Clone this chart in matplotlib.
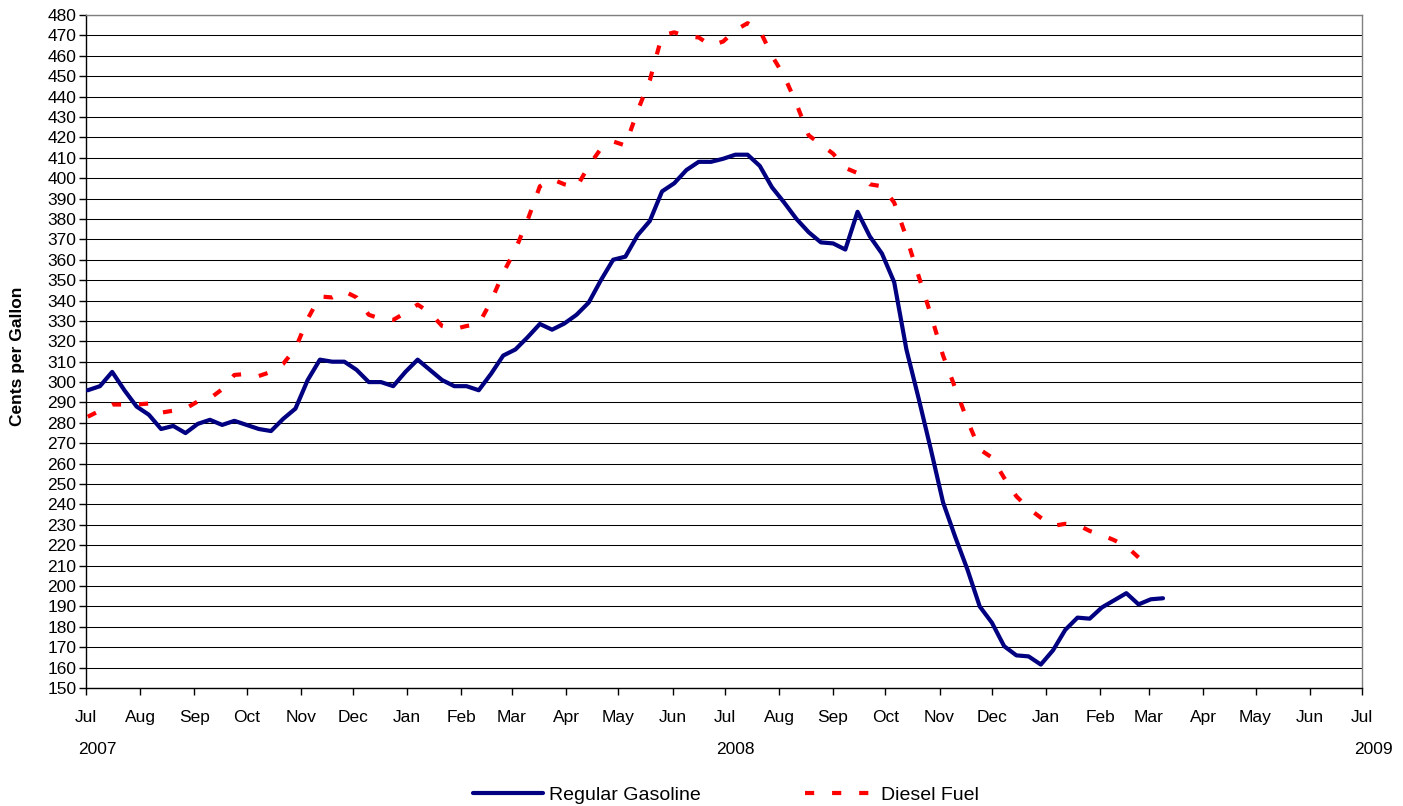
import matplotlib
matplotlib.use("Agg")
import matplotlib.pyplot as plt
import matplotlib.dates as mdates
import pandas as pd
import numpy as np

plt.rcParams['font.family'] = ['Liberation Sans', 'DejaVu Sans']

# Weekly dates (Mondays) starting Jul 2, 2007
start_date = "2007-07-02"

gasoline = [296, 298, 305, 296, 288, 284, 277, 278.5, 275, 279.5,
            281.5, 279, 281, 279, 277, 276, 282, 287, 301, 311,
            310, 310, 306, 300, 300, 298, 305, 311, 306, 301,
            298, 298, 296, 304, 313, 316, 322, 328.5, 325.7, 328.7,
            333, 339, 350, 360, 361.5, 372, 379, 393.5, 397.5, 404,
            408, 408, 409.5, 411.5, 411.5, 406, 395.5, 388, 380, 373.5,
            368.5, 368, 365, 383.5, 371.5, 363, 349, 316, 292, 267,
            241, 224, 208, 190, 182, 170.5, 166, 165.5, 161.5, 168.5,
            178.5, 184.5, 184, 189.5, 193, 196.5, 191, 193.5, 194]

diesel = [283, 286, 289, 289, 289, 289.5, 285, 286, 287, 290.5,
          292, 296.5, 303.5, 304, 303, 305, 309, 316.5, 331, 342,
          341.5, 344.5, 341.5, 333, 331, 330.5, 334, 338, 334, 327.5,
          326, 327.5, 328.5, 339.5, 353.5, 365, 379.5, 396, 399.5, 397,
          395.5, 406, 414.5, 418, 416, 433, 448, 470, 471.5, 469.5,
          469, 465, 467, 472.5, 476, 472.5, 460, 450, 436.5, 421,
          416.5, 412, 405, 402.5, 397, 396, 388, 371, 352, 333,
          313, 297, 281, 267, 263, 253, 244, 238, 233.5, 229.5,
          230.5, 230, 227, 225, 222.5, 219.5, 214, 208]

series_labels = ["Regular Gasoline", "Diesel Fuel"]
y_label = "Cents per Gallon"
year_labels = ["2007", "2008", "2009"]
y_ticks = list(range(150, 481, 10))

gas_dates = pd.date_range(start_date, periods=len(gasoline), freq="7D")
dsl_dates = pd.date_range(start_date, periods=len(diesel), freq="7D")

W, H = 1403, 806
fig = plt.figure(figsize=(W / 100, H / 100), dpi=100)
ax = fig.add_axes([86 / W, 1 - 688 / H, (1362 - 86) / W, (688 - 15) / H])

ax.set_xlim(pd.Timestamp("2007-07-01"), pd.Timestamp("2009-07-01"))
ax.set_ylim(150, 480)
ax.set_yticks(y_ticks)
ax.yaxis.grid(True, color="black", linewidth=0.75)
ax.set_axisbelow(True)

ax.plot(gas_dates, gasoline, color="#000080", linewidth=3.0,
        solid_capstyle="round", solid_joinstyle="round", label=series_labels[0], zorder=3)
ax.plot(dsl_dates, diesel, color="#FF0000", linewidth=3.0,
        dashes=(2.2, 4.3), dash_capstyle="butt", label=series_labels[1], zorder=3)

ax.xaxis.set_major_locator(mdates.MonthLocator())
ax.xaxis.set_major_formatter(mdates.DateFormatter("%b"))
ax.tick_params(axis="both", direction="out", length=5, width=1, colors="black",
               labelsize=12.5)
ax.tick_params(axis="x", pad=11)
ax.tick_params(axis="y", pad=2)

for s in ["left", "bottom"]:
    ax.spines[s].set_color("black")
    ax.spines[s].set_linewidth(1.0)
for s in ["top", "right"]:
    ax.spines[s].set_color("#808080")
    ax.spines[s].set_linewidth(1.0)

for lab, yr in zip(year_labels, [2007, 2008, 2009]):
    ax.annotate(lab, xy=(pd.Timestamp(f"{yr}-07-01"), 0),
                xycoords=("data", "axes fraction"),
                xytext=(11, -61), textcoords="offset pixels",
                ha="center", va="center", fontsize=12.5)

fig.text(18 / W, 1 - 356 / H, y_label, rotation=90, ha="center", va="center",
         fontsize=12.5, fontweight="bold")

leg = fig.legend(loc="center", bbox_to_anchor=(726 / W, 1 - 795 / H), ncol=2,
                 frameon=False, fontsize=14, handlelength=3.6,
                 handletextpad=0.3, columnspacing=5.4)

fig.savefig("out.png", dpi=100)
